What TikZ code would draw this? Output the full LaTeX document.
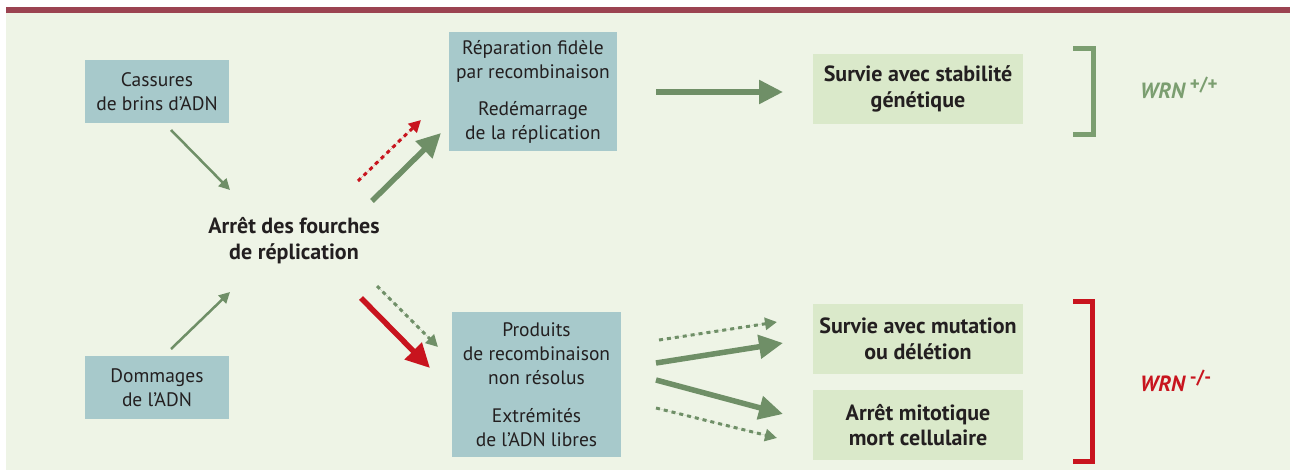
\documentclass[tikz,border=0pt]{standalone}
\usepackage{fontspec}
\setmainfont{PT Sans}
\usetikzlibrary{arrows.meta}
\definecolor{topline}{HTML}{9B4351}
\definecolor{paper}{HTML}{EEF4E6}
\definecolor{boxblue}{HTML}{A7C9CB}
\definecolor{boxgreen}{HTML}{DAE9CA}
\definecolor{arrgreen}{HTML}{6F8F67}
\definecolor{wrngreen}{HTML}{7B9E70}
\definecolor{arrred}{HTML}{C8141E}
\definecolor{ink}{HTML}{231F20}
\newcommand{\wrn}[1]{\textit{WRN}\,\raisebox{8pt}{\fontsize{19}{19}\selectfont #1}}

\begin{document}
\begin{tikzpicture}
  [x=1pt,y=-1pt,
   every node/.style={align=center,text=ink,inner sep=0pt,font=\fontsize{19.5}{24}\selectfont},
   bluebox/.style={fill=boxblue,minimum width=144pt,minimum height=63pt},
   greenbox/.style={fill=boxgreen,minimum width=210pt,minimum height=70pt,font=\fontsize{22}{25.5}\selectfont\bfseries},
   thinarr/.style={draw=arrgreen,line width=2.5pt,-{Triangle[length=11pt,width=11pt]},fill=arrgreen},
   thickarr/.style={draw=arrgreen,line width=5.5pt,-{Triangle[length=24pt,width=23pt]},fill=arrgreen},
   redarr/.style={thickarr,draw=arrred,fill=arrred},
   dotarr/.style={draw=arrgreen,line width=3pt,dash pattern=on 4pt off 4pt,-{Triangle[length=12pt,width=12pt]},fill=arrgreen},
   reddotarr/.style={dotarr,draw=arrred,fill=arrred},
   wrnlabel/.style={anchor=west,font=\fontsize{22}{22}\selectfont\bfseries},
   bracket/.style={line width=5pt}]
  \useasboundingbox (0,0) rectangle (1290,471);
  \fill[paper] (6,13) rectangle (1290,470);
  \fill[topline] (6,7) rectangle (1290,13);

  \node[bluebox] (cass) at (157,91.5) {Cassures\\de brins d’ADN};
  \node[bluebox] (domm) at (157,387.5) {Dommages\\de l’ADN};
  \node[font=\fontsize{22}{26}\selectfont\bfseries] (fourch) at (294,241) {Arrêt des fourches\\de réplication};
  \node[bluebox,minimum width=168pt,minimum height=119pt] (repar) at (533,91.5)
    {Réparation fidèle\\par recombinaison\\[13pt]Redémarrage\\de la réplication};
  \node[bluebox,minimum width=169pt,minimum height=145pt] (produ) at (536.5,384.5)
    {Produits\\de recombinaison\\non résolus\\[14pt]Extrémités\\de l’ADN libres};
  \node[greenbox] (stab) at (918,89) {Survie avec stabilité\\génétique};
  \node[greenbox] (mutat) at (918,339) {Survie avec mutation\\ou délétion};
  \node[greenbox] (mort) at (918,425) {Arrêt mitotique\\mort cellulaire};
  \node[wrnlabel,text=wrngreen] (wrnp) at (1140,88) {\wrn{+/+}};
  \node[wrnlabel,text=arrred] (wrnm) at (1140,381) {\wrn{-/-}};

  % arrow ends
  \coordinate (a1) at (171,130);  \coordinate (b1) at (230,190);
  \coordinate (a2) at (171,349);  \coordinate (b2) at (230,292);
  \coordinate (a3) at (358,181);  \coordinate (b3) at (421,120);
  \coordinate (a4) at (372,201);  \coordinate (b4) at (441,133);
  \coordinate (a5) at (361,298);  \coordinate (b5) at (430,368);
  \coordinate (a6) at (377,286);  \coordinate (b6) at (438,347);
  \coordinate (a7) at (656,92);   \coordinate (b7) at (783,92);
  \coordinate (a8) at (659,340);  \coordinate (b8) at (777,322);
  \coordinate (a9) at (656,363);  \coordinate (b9) at (783,343);
  \coordinate (a10) at (656,380); \coordinate (b10) at (783,414);
  \coordinate (a11) at (656,408); \coordinate (b11) at (777,438);

  \foreach \from/\to/\sty in {a1/b1/thinarr,a2/b2/thinarr,a3/b3/reddotarr,a4/b4/thickarr,
      a5/b5/redarr,a6/b6/dotarr,a7/b7/thickarr,a8/b8/dotarr,a9/b9/thickarr,
      a10/b10/thickarr,a11/b11/dotarr}
    \draw[\sty] (\from) -- (\to);

  % brackets
  \draw[bracket,wrngreen] (1073,48.5) -| (1093.5,134.5) -- (1073,134.5);
  \draw[bracket,arrred] (1073,301.5) -| (1092.5,461.5) -- (1073,461.5);
\end{tikzpicture}
\end{document}
